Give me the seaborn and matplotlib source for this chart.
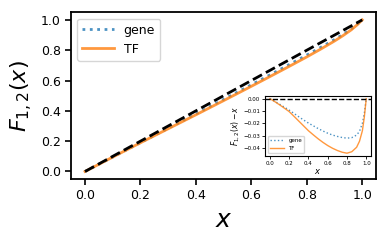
import numpy as np
import seaborn as sns
import matplotlib.pyplot as plt

# x grid and deviations F_{1,2}(x) - x
x_vals = [0.0, 0.05, 0.1, 0.15, 0.2, 0.25, 0.3, 0.35, 0.4, 0.45, 0.5, 0.55,
          0.6, 0.65, 0.7, 0.75, 0.8, 0.85, 0.9, 0.93, 0.96, 0.98, 1.0]
gene_dev = [0.0, -0.0022, -0.0045, -0.0069, -0.0093, -0.0120, -0.0147, -0.0173,
            -0.0198, -0.0220, -0.0242, -0.0262, -0.0280, -0.0295, -0.0306, -0.0315,
            -0.0320, -0.0316, -0.0295, -0.0265, -0.0200, -0.0120, 0.0]
tf_dev = [0.0, -0.0024, -0.0050, -0.0077, -0.0105, -0.0143, -0.0182, -0.0221,
          -0.0260, -0.0293, -0.0325, -0.0354, -0.0380, -0.0402, -0.0420, -0.0434,
          -0.0442, -0.0430, -0.0394, -0.0345, -0.0260, -0.0150, 0.0]
diag = [0.0, 1.0]

x = np.array(x_vals)
gene = x + np.array(gene_dev)
tf = x + np.array(tf_dev)

plt.rcParams['axes.linewidth'] = 1.3

fig = plt.figure(figsize=(3.91, 2.41), dpi=100)
ax = fig.add_axes([0.182, 0.257, 0.780, 0.692])

sns.lineplot(x=x, y=gene, ax=ax, color='tab:blue', linestyle=':', linewidth=2, alpha=0.8, label='gene')
sns.lineplot(x=x, y=tf, ax=ax, color='tab:orange', linewidth=2, alpha=0.8, label='TF')
sns.lineplot(x=diag, y=diag, ax=ax, color='black', linestyle='--', linewidth=2)

ax.set_xticks([0.0, 0.2, 0.4, 0.6, 0.8, 1.0])
ax.set_yticks([0.0, 0.2, 0.4, 0.6, 0.8, 1.0])
ax.tick_params(labelsize=9, width=1.2, length=4)
ax.set_xlabel('$x$', fontsize=18)
ax.set_ylabel('$F_{1,2}(x)$', fontsize=16)
ax.legend(loc='upper left', fontsize=9, handlelength=2.5)

# inset with the deviations
ins = fig.add_axes([0.678, 0.353, 0.271, 0.249])
sns.lineplot(x=x, y=np.array(gene_dev), ax=ins, color='tab:blue', linestyle=':', linewidth=1, alpha=0.8, label='gene')
sns.lineplot(x=x, y=np.array(tf_dev), ax=ins, color='tab:orange', linewidth=1, alpha=0.8, label='TF')
ins.axhline(0, color='black', linestyle='--', linewidth=1)
ins.set_xticks([0.0, 0.2, 0.4, 0.6, 0.8, 1.0])
ins.set_yticks([-0.04, -0.03, -0.02, -0.01, 0.0])
ins.tick_params(labelsize=4, width=0.6, length=2, pad=1.5)
for s in ins.spines.values():
    s.set_linewidth(0.8)
ins.set_xlabel('$x$', fontsize=6, labelpad=1)
ins.set_ylabel('$F_{1,2}(x) - x$', fontsize=5.5, labelpad=1)
ins.legend(loc='lower left', fontsize=4, handlelength=2.5, borderpad=0.4)

fig.savefig('out.png', dpi=100)
